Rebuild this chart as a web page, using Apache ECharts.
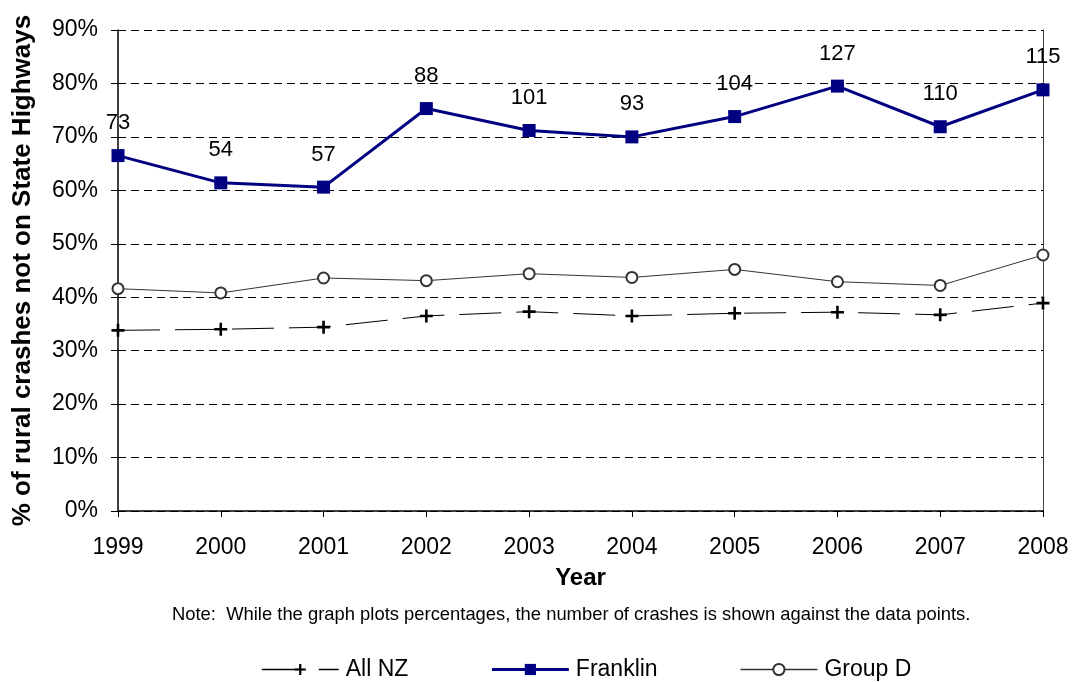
<!DOCTYPE html>
<html>
<head>
<meta charset="utf-8">
<script src="https://cdn.jsdelivr.net/npm/echarts@6/dist/echarts.min.js"></script>
<style>
html,body{margin:0;padding:0;background:#fff;}
#c{width:1072px;height:682px;}
</style>
</head>
<body>
<div id="c"></div>
<script>
const years = ['1999','2000','2001','2002','2003','2004','2005','2006','2007','2008'];
const allNZ = [33.8, 34.0, 34.4, 36.5, 37.3, 36.5, 37.0, 37.2, 36.7, 38.9];
const franklin = [66.5, 61.4, 60.6, 75.3, 71.2, 70.0, 73.8, 79.5, 71.9, 78.8];
const groupD = [41.6, 40.8, 43.6, 43.1, 44.4, 43.7, 45.2, 42.9, 42.2, 47.9];
const franklinCounts = [73, 54, 57, 88, 101, 93, 104, 127, 110, 115];
const yTicks = [0, 10, 20, 30, 40, 50, 60, 70, 80, 90];

const FONT = 'Liberation Sans, Arial, sans-serif';
const plus = 'path://M4,0H6V4H10V6H6V10H4V6H0V4H4Z';

const chart = echarts.init(document.getElementById('c'));
chart.setOption({
  animation: false,
  backgroundColor: '#fff',
  textStyle: {fontFamily: FONT},
  grid: {left: 118, right: 29, top: 30, bottom: 171, containLabel: false},
  xAxis: {
    type: 'category',
    data: years,
    boundaryGap: false,
    name: 'Year',
    nameLocation: 'middle',
    nameGap: 55,
    nameTextStyle: {fontSize: 24, fontWeight: 'bold', color: '#000', fontFamily: FONT},
    axisLine: {lineStyle: {color: '#000', width: 1.5}},
    axisTick: {show: true, length: 6, lineStyle: {color: '#000'}},
    axisLabel: {fontSize: 23, color: '#000', margin: 25, fontFamily: FONT},
    splitLine: {show: false}
  },
  yAxis: [{
    type: 'value',
    min: 0, max: 90, interval: 10,
    name: '% of rural crashes not on State Highways',
    nameLocation: 'middle',
    nameGap: 82,
    nameTextStyle: {fontSize: 26, fontWeight: 'bold', color: '#000', fontFamily: FONT},
    axisLine: {show: true, lineStyle: {color: '#000', width: 1.5}},
    axisTick: {show: true, length: 7, lineStyle: {color: '#000'}},
    axisLabel: {fontSize: 23, color: '#000', margin: 20, fontFamily: FONT,
      formatter: v => yTicks.includes(v) ? v + '%' : ''},
    splitLine: {show: true, lineStyle: {color: '#000', type: [8, 5], width: 1}}
  }, {
    type: 'value',
    min: 0, max: 90, interval: 10,
    position: 'right',
    axisLine: {show: true, lineStyle: {color: '#444', width: 1}},
    axisTick: {show: false},
    axisLabel: {show: false},
    splitLine: {show: false}
  }],
  legend: {
    top: 653,
    left: 256,
    itemWidth: 77,
    itemHeight: 14,
    itemGap: 82,
    textStyle: {fontSize: 23, color: '#000', fontFamily: FONT, padding: [0, 0, 0, 2]},
    data: [
      {name: 'All NZ', lineStyle: {width: 1.5}},
      {name: 'Franklin', lineStyle: {width: 3}},
      {name: 'Group D', lineStyle: {width: 1.5}}
    ]
  },
  graphic: [{
    type: 'text',
    left: 172,
    top: 606,
    style: {text: 'Note:  While the graph plots percentages, the number of crashes is shown against the data points.',
      fontSize: 18.4, fill: '#000', fontFamily: FONT}
  }],
  series: [{
    name: 'All NZ',
    type: 'line',
    data: allNZ,
    symbol: plus,
    symbolSize: 13,
    itemStyle: {color: '#000'},
    lineStyle: {color: '#000', width: 1, type: [42, 15]},
    z: 3
  }, {
    name: 'Franklin',
    type: 'line',
    data: franklin,
    symbol: 'rect',
    symbolSize: 13,
    itemStyle: {color: '#000080'},
    lineStyle: {color: '#000080', width: 3},
    label: {
      show: true,
      position: 'top',
      distance: 15,
      fontSize: 22,
      color: '#000',
      fontFamily: FONT,
      formatter: p => String(franklinCounts[p.dataIndex])
    },
    z: 4
  }, {
    name: 'Group D',
    type: 'line',
    data: groupD,
    symbol: 'emptyCircle',
    symbolSize: 11,
    itemStyle: {color: '#333', borderWidth: 1.6},
    lineStyle: {color: '#333', width: 1},
    z: 3
  }]
});
</script>
</body>
</html>
